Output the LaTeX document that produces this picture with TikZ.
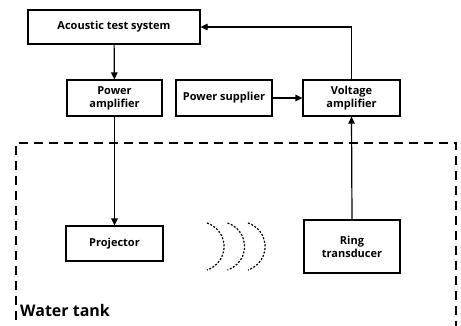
\documentclass[tikz,border=0pt]{standalone}
\usepackage{fontspec}
\setmainfont{Open Sans}
\usetikzlibrary{arrows.meta}

\begin{document}
\begin{tikzpicture}[x=1pt, y=1pt,
    box/.style={draw, line width=1.2pt, align=center, inner sep=0pt, font=\fontsize{11}{13}\selectfont\bfseries},
    link/.style={line width=1.2pt, -{Triangle[length=7pt, width=6.5pt]}},
    wave/.style={line width=1.2pt, dash pattern=on 2pt off 1.6pt}]
    \useasboundingbox (0,0) rectangle (461,325);

    % Nodes
    \node[box, minimum width=172pt, minimum height=34pt] (ats) at (114,298) {Acoustic test system};
    \node[box, minimum width=95pt, minimum height=36pt] (pamp) at (114.5,227) {Power\\amplifier};
    \node[box, minimum width=96pt, minimum height=36pt] (psup) at (224,227) {Power supplier};
    \node[box, minimum width=97pt, minimum height=36pt] (vamp) at (351.5,227) {Voltage\\amplifier};

    % Tank nodes
    \node[box, minimum width=97pt, minimum height=35pt] (proj) at (114.5,81.5) {Projector};
    \node[box, minimum width=96pt, minimum height=53pt] (ring) at (352,78.5) {Ring\\transducer};

    % Water tank
    \draw[line width=1.3pt, dash pattern=on 9pt off 6pt] (16,-10) -- (16,182) -- (456,182) -- (456,-10);
    \node[anchor=base west, inner sep=0pt, font=\fontsize{16}{18}\selectfont\bfseries] (tank) at (20,9) {Water tank};

    % Waves
    \foreach \x in {207,227.5,248}
        \draw[wave] (\x,102) arc[start angle=72, end angle=-72, radius=24.7];

    % Edges
    \draw[link] (ats) -- (pamp);
    \draw[link] (psup) -- (vamp);
    \draw[link] (vamp.north) |- (ats.east);
    \draw[link] (pamp.south) -- (pamp.south |- proj.north);
    \draw[link] (ring.north) -- (vamp.south);

\end{tikzpicture}
\end{document}
